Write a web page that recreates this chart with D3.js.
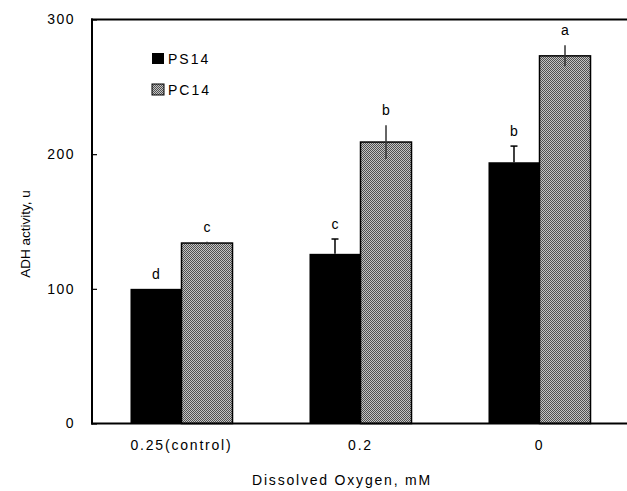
<!DOCTYPE html>
<html><head><meta charset="utf-8">
<script src="https://cdn.jsdelivr.net/npm/d3@7"></script>
<style>
body{margin:0;background:#fff;}
text{font-family:"Liberation Sans",Arial,sans-serif;fill:#000;}
</style></head>
<body><svg id="c" width="627" height="491"></svg>
<script>
const categories = ["0.25(control)", "0.2", "0"];
const series = ["PS14", "PC14"];
const ps14 = [100, 126, 194];
const ps14Err = [0, 11, 12];
const pc14 = [134, 209, 273];
const pc14Err = [1, 12.5, 7.8];
const ps14Letters = ["d", "c", "b"];
const pc14Letters = ["c", "b", "a"];
const yTicks = [0, 100, 200, 300];

const svg = d3.select("#c");
const L = 92, R = 629, T = 19.5, B = 423.5;

const defs = svg.append("defs");
const pat = defs.append("pattern").attr("id","dots").attr("patternUnits","userSpaceOnUse")
  .attr("width",2).attr("height",2);
pat.append("rect").attr("width",2).attr("height",2).attr("fill","#c4c4c4");
pat.append("rect").attr("x",0).attr("y",0).attr("width",1).attr("height",1).attr("fill","#505050");
pat.append("rect").attr("x",1).attr("y",1).attr("width",1).attr("height",1).attr("fill","#505050");

const y = d3.scaleLinear().domain([0,300]).range([B,T]);
const x0 = d3.scaleBand().domain(categories).range([L,R]).paddingInner(0.43).paddingOuter(0.215);
const x1 = d3.scaleBand().domain(series).range([0,x0.bandwidth()]);

const data = categories.map((c,i)=>[
  {cat:c, s:"PS14", v:ps14[i], e:ps14Err[i], l:ps14Letters[i]},
  {cat:c, s:"PC14", v:pc14[i], e:pc14Err[i], l:pc14Letters[i]}
]).flat();

// bars
svg.append("g").selectAll("rect").data(data).join("rect")
  .attr("x", d=>x0(d.cat)+x1(d.s))
  .attr("y", d=>y(d.v))
  .attr("width", x1.bandwidth())
  .attr("height", d=>y(0)-y(d.v))
  .attr("fill", d=>d.s==="PS14"?"#000":"url(#dots)")
  .attr("stroke","#000").attr("stroke-width", d=>d.s==="PS14"?0:1.5);

// error bars
const eg = svg.append("g").attr("stroke","#000").attr("stroke-width",1.5);
data.forEach(d=>{
  if (d.e<=0) return;
  const cx = x0(d.cat)+x1(d.s)+x1.bandwidth()/2;
  if (d.s==="PS14"){
    eg.append("line").attr("x1",cx).attr("x2",cx).attr("y1",y(d.v)).attr("y2",y(d.v+d.e));
    eg.append("line").attr("x1",cx-3.5).attr("x2",cx+3.5).attr("y1",y(d.v+d.e)).attr("y2",y(d.v+d.e));
  } else {
    eg.append("line").attr("x1",cx).attr("x2",cx).attr("y1",y(d.v-d.e)).attr("y2",y(d.v+d.e)).attr("stroke","#333");
  }
});

// letters
svg.append("g").selectAll("text").data(data).join("text")
  .attr("x", d=>x0(d.cat)+x1(d.s)+x1.bandwidth()/2)
  .attr("y", d=>y(d.v+d.e)-10)
  .attr("text-anchor","middle").attr("font-size",14)
  .text(d=>d.l);

// y axis
const yAxis = d3.axisLeft(y).tickValues(yTicks).tickSize(-5).tickPadding(17);
const yg = svg.append("g").attr("transform",`translate(${L},0)`).call(yAxis);
yg.select(".domain").remove();
yg.selectAll(".tick line").attr("stroke","#000").attr("stroke-width",1.2);
yg.selectAll(".tick text").attr("font-size",14).attr("font-family","Liberation Sans, Arial, sans-serif")
  .attr("letter-spacing","1.5px").attr("fill","#000");

// x axis labels
const xAxis = d3.axisBottom(x0).tickSize(0).tickPadding(17);
const xg = svg.append("g").attr("transform",`translate(0,${B})`).call(xAxis);
xg.select(".domain").remove();
xg.selectAll(".tick text").attr("font-size",14).attr("font-family","Liberation Sans, Arial, sans-serif")
  .attr("letter-spacing","1.8px").attr("fill","#000");

// frame lines
svg.append("line").attr("x1",L).attr("x2",L).attr("y1",T-1).attr("y2",B+1).attr("stroke","#000").attr("stroke-width",2);
svg.append("line").attr("x1",L-1).attr("x2",627).attr("y1",B).attr("y2",B).attr("stroke","#000").attr("stroke-width",2.2);
svg.append("line").attr("x1",L-1).attr("x2",627).attr("y1",T).attr("y2",T).attr("stroke","#000").attr("stroke-width",2.2);

// axis titles
svg.append("text").attr("x",342).attr("y",485).attr("text-anchor","middle")
  .attr("font-size",14).attr("letter-spacing","1.8px").text("Dissolved Oxygen, mM");
svg.append("text").attr("transform","translate(30,234) rotate(-90)").attr("text-anchor","middle")
  .attr("font-size",13.5).text("ADH activity, u");

// legend
const lg = svg.append("g");
series.forEach((s,i)=>{
  const yy = 53 + i*31;
  lg.append("rect").attr("x",152).attr("y",yy).attr("width",12).attr("height",11)
    .attr("fill", s==="PS14"?"#000":"url(#dots)").attr("stroke","#000").attr("stroke-width",s==="PS14"?0:1);
  lg.append("text").attr("x",168).attr("y",yy+11).attr("font-size",14).attr("letter-spacing","2px").text(s);
});
</script></body></html>
